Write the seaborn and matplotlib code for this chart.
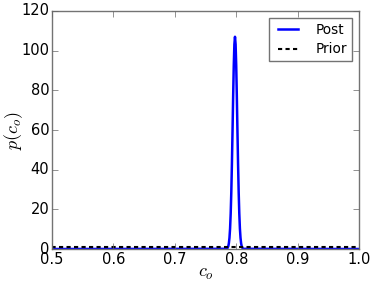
import matplotlib
matplotlib.use("Agg")
import matplotlib.pyplot as plt
import seaborn as sns
import pandas as pd

post_x = [0.5, 0.784, 0.785, 0.786, 0.787, 0.788, 0.789, 0.790, 0.791, 0.792,
          0.793, 0.794, 0.795, 0.796, 0.797, 0.798, 0.799, 0.800, 0.801, 0.802,
          0.803, 0.804, 0.805, 0.806, 0.807, 0.808, 0.809, 0.810, 0.811, 0.812, 1.0]
post_y = [0.0, 0.1, 0.2, 0.6, 1.3, 2.8, 5.6, 10.3, 17.9, 28.7,
          42.9, 59.6, 77.0, 92.4, 103.2, 107.0, 103.2, 92.4, 77.0, 59.6,
          42.9, 28.7, 17.9, 10.3, 5.6, 2.8, 1.3, 0.6, 0.2, 0.1, 0.0]
prior_x = [0.0, 1.0]
prior_y = [1.0, 1.0]

xticks = [0.5, 0.6, 0.7, 0.8, 0.9, 1.0]
yticks = [0, 20, 40, 60, 80, 100, 120]

plt.style.use("classic")
plt.rcParams["font.family"] = ["DejaVu Sans"]
plt.rcParams["mathtext.fontset"] = "cm"

fig = plt.figure(figsize=(3.74, 2.82), dpi=100, facecolor="white")
ax = fig.add_axes([0.139, 0.117, 0.821, 0.844])

df_post = pd.DataFrame({"x": post_x, "y": post_y})
df_prior = pd.DataFrame({"x": prior_x, "y": prior_y})
sns.lineplot(data=df_post, x="x", y="y", ax=ax, color="blue", lw=1.8,
             label="Post", estimator=None, sort=False)
sns.lineplot(data=df_prior, x="x", y="y", ax=ax, color="black", lw=1.5,
             dashes=(3.0, 2.4), label="Prior", estimator=None, sort=False)

ax.set_xlim(0.5, 1.0)
ax.set_ylim(0, 120)
ax.set_xticks(xticks)
ax.set_yticks(yticks)
ax.set_xticklabels([f"{t:.1f}" for t in xticks])
ax.tick_params(labelsize=10.5, direction="in", length=4, color="0.4")
ax.tick_params(axis="x", pad=2)
ax.tick_params(axis="y", pad=2)
for s in ax.spines.values():
    s.set_color("0.45")
ax.set_xlabel(r"$c_o$", fontsize=13)
ax.set_ylabel(r"$p(c_o)$", fontsize=13)
ax.xaxis.set_label_coords(0.5, -0.063)
ax.yaxis.set_label_coords(-0.088, 0.5)
leg = ax.legend(loc="upper right", fontsize=9.8, fancybox=False,
                handlelength=2.1, borderpad=0.35, labelspacing=0.42,
                handletextpad=1.0, borderaxespad=0.5)
leg.get_frame().set_edgecolor("0.45")

fig.savefig("out.png", dpi=100, facecolor="white")
